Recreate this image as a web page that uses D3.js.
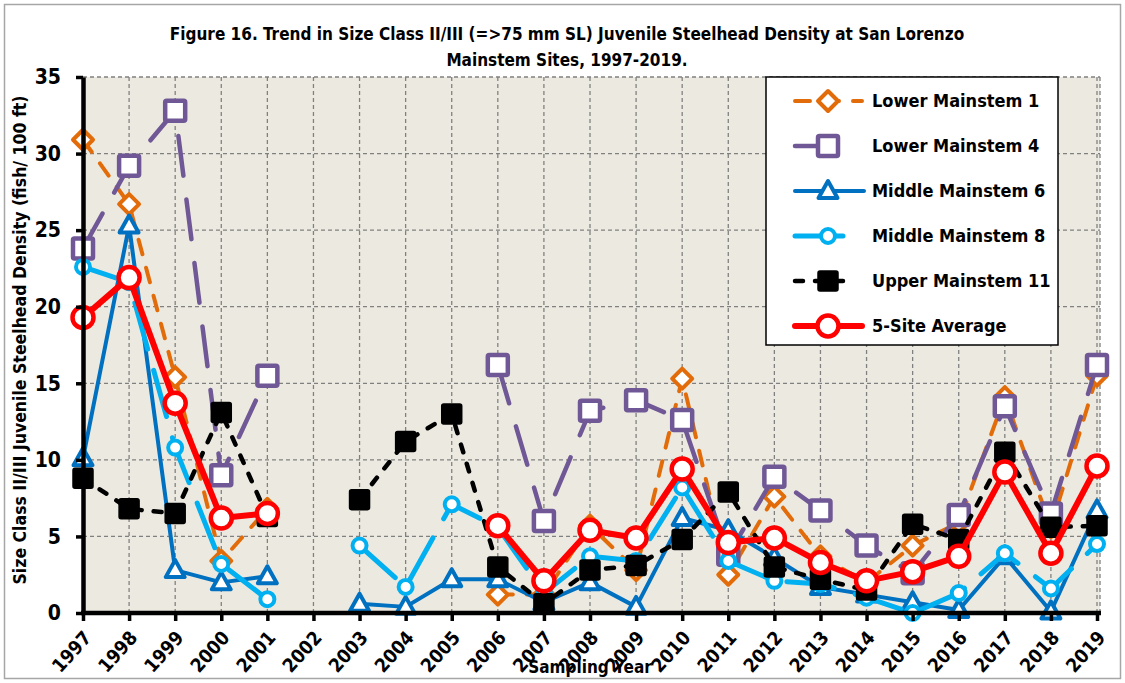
<!DOCTYPE html>
<html>
  <head>
    <meta charset="utf-8">
    <title>Figure 16</title>
    <style>
      body { margin: 0; background: #fff; }
      svg text { font-family: "Liberation Sans Narrow", "DejaVu Sans Condensed", "Open Sans", sans-serif; font-weight: bold; fill: #000; }
    </style>
    <script src="https://cdn.jsdelivr.net/npm/d3@7/dist/d3.min.js"></script>
  </head>
  <body>
    <div id="chart"></div>
    <script>
var years = ["1997","1998","1999","2000","2001","2002","2003","2004","2005","2006","2007","2008",
             "2009","2010","2011","2012","2013","2014","2015","2016","2017","2018","2019"];
var yTicks = [0, 5, 10, 15, 20, 25, 30, 35];

var lowerMainstem1 = [30.9, 26.7, 15.4, 3.4, 6.8, null, null, null, null, 1.2, 1.2, 5.7,
                      2.8, 15.3, 2.5, 7.6, 3.7, 2.0, 4.4, 5.9, 14.1, 5.6, 15.5];
var lowerMainstem4 = [23.8, 29.2, 32.8, 9.0, 15.5, null, null, null, null, 16.2, 6.0, 13.2,
                      13.9, 12.6, 3.8, 8.9, 6.7, 4.4, 2.6, 6.4, 13.5, 6.5, 16.2];
var middleMainstem6 = [10.1, 25.3, 2.8, 2.0, 2.4, null, 0.6, 0.4, 2.2, 2.2, 0.7, 2.0,
                       0.4, 6.2, 5.4, 3.6, 1.7, 1.2, 0.7, 0.2, 3.7, 0.1, 6.7];
var middleMainstem8 = [22.6, 21.6, 10.8, 3.2, 0.9, null, 4.4, 1.7, 7.1, 5.6, 1.3, 3.7,
                       3.4, 8.2, 3.4, 2.1, 1.9, 1.0, 0.0, 1.3, 3.9, 1.6, 4.5];
var upperMainstem11 = [8.8, 6.8, 6.5, 13.1, 6.3, null, 7.4, 11.2, 13.0, 3.0, 0.6, 2.8,
                       3.1, 4.8, 7.9, 3.0, 2.2, 1.5, 5.8, 4.8, 10.5, 5.6, 5.7];
var siteAverage = [19.3, 21.9, 13.7, 6.2, 6.5, null, null, null, null, 5.7, 2.1, 5.4,
                   4.9, 9.4, 4.6, 4.9, 3.3, 2.1, 2.7, 3.7, 9.2, 3.9, 9.6];

var series = [
  { name: "Lower Mainstem 1", values: lowerMainstem1, color: "#E36C0A", dash: "15,14", width: 4, marker: "diamond", legendEnd: 862 },
  { name: "Lower Mainstem 4", values: lowerMainstem4, color: "#6F5895", dash: "40,24", width: 4.5, marker: "square", legendEnd: 841 },
  { name: "Middle Mainstem 6", values: middleMainstem6, color: "#0070C0", dash: null, width: 4, marker: "triangle", legendEnd: 864 },
  { name: "Middle Mainstem 8", values: middleMainstem8, color: "#00B0F0", dash: "48,22", width: 5, marker: "circle", legendEnd: 846 },
  { name: "Upper Mainstem 11", values: upperMainstem11, color: "#000000", dash: "8,12", width: 4.5, marker: "filledSquare", legendEnd: 855 },
  { name: "5-Site Average", values: siteAverage, color: "#FF0000", dash: null, width: 6, marker: "bigCircle", legendEnd: 862 }
];

var W = 1125, H = 683;
var svg = d3.select("#chart").append("svg").attr("width", W).attr("height", H);

svg.append("rect").attr("x", 4.5).attr("y", 4.5).attr("width", W - 9).attr("height", H - 9)
  .attr("fill", "#fff").attr("stroke", "#a6a6a6").attr("stroke-width", 1.5);

var x = d3.scalePoint().domain(years).range([83, 1097]);
var y = d3.scaleLinear().domain([0, 35]).range([613, 77]);

// plot area
svg.append("rect").attr("x", 83).attr("y", 77).attr("width", 1100 - 83).attr("height", 613 - 77)
  .attr("fill", "#ECEAE0");

var grid = svg.append("g").attr("stroke", "#808080").attr("stroke-width", 1.3).attr("stroke-dasharray", "4,3");
grid.selectAll(".vg").data(years.slice(1)).enter().append("line")
  .attr("x1", function(d){ return x(d); }).attr("x2", function(d){ return x(d); })
  .attr("y1", 77).attr("y2", 613);
grid.append("line").attr("x1", 1100).attr("x2", 1100).attr("y1", 77).attr("y2", 613);
grid.selectAll(".hg").data(yTicks.slice(1)).enter().append("line")
  .attr("x1", 83).attr("x2", 1100)
  .attr("y1", function(d){ return y(d); }).attr("y2", function(d){ return y(d); });

// title
var title = svg.append("text").attr("x", 567).attr("text-anchor", "middle").style("font-size", "17px");
title.append("tspan").attr("x", 567).attr("y", 40).text("Figure 16. Trend in Size Class II/III  (=>75 mm SL) Juvenile Steelhead Density at San Lorenzo");
title.append("tspan").attr("x", 567).attr("y", 66).text("Mainstem Sites, 1997-2019.");

// lines
var line = d3.line()
  .defined(function(d){ return d != null; })
  .x(function(d, i){ return x(years[i]); })
  .y(function(d){ return y(d); });

function drawMarker(g, s, cx, cy) {
  if (s.marker === "diamond") {
    g.append("path").attr("d", "M" + cx + "," + (cy - 10) + "L" + (cx + 10) + "," + cy + "L" + cx + "," + (cy + 10) + "L" + (cx - 10) + "," + cy + "Z")
      .attr("fill", "#fff").attr("stroke", s.color).attr("stroke-width", 4).attr("stroke-linejoin", "round");
  } else if (s.marker === "square") {
    g.append("rect").attr("x", cx - 10).attr("y", cy - 10).attr("width", 20).attr("height", 20)
      .attr("fill", "#fff").attr("stroke", s.color).attr("stroke-width", 4.5).attr("rx", 1.5);
  } else if (s.marker === "triangle") {
    g.append("path").attr("d", "M" + cx + "," + (cy - 10) + "L" + (cx + 9.5) + "," + (cy + 7) + "L" + (cx - 9.5) + "," + (cy + 7) + "Z")
      .attr("fill", "#fff").attr("stroke", s.color).attr("stroke-width", 4).attr("stroke-linejoin", "round");
  } else if (s.marker === "circle") {
    g.append("circle").attr("cx", cx).attr("cy", cy).attr("r", 7)
      .attr("fill", "#fff").attr("stroke", s.color).attr("stroke-width", 4);
  } else if (s.marker === "filledSquare") {
    g.append("rect").attr("x", cx - 10).attr("y", cy - 10).attr("width", 20).attr("height", 20)
      .attr("fill", "#000").attr("stroke", "#000").attr("stroke-width", 1.5).attr("rx", 2);
  } else if (s.marker === "bigCircle") {
    g.append("circle").attr("cx", cx).attr("cy", cy).attr("r", 10.5)
      .attr("fill", "#fff").attr("stroke", s.color).attr("stroke-width", 4.5);
  }
}

series.forEach(function(s){
  var g = svg.append("g");
  g.append("path").datum(s.values).attr("d", line)
    .attr("fill", "none").attr("stroke", s.color).attr("stroke-width", s.width)
    .attr("stroke-dasharray", s.dash).attr("stroke-linecap", s.dash ? "round" : "butt")
    .attr("stroke-linejoin", "round");
  s.values.forEach(function(v, i){
    if (v != null) drawMarker(g, s, x(years[i]), y(v));
  });
});

// axes
var yAxis = svg.append("g").attr("transform", "translate(83,0)")
  .call(d3.axisLeft(y).tickValues(yTicks).tickSize(7).tickPadding(15).tickSizeOuter(0));
yAxis.select(".domain").attr("stroke-width", 4.5);
yAxis.selectAll(".tick line").attr("stroke-width", 3.5);
yAxis.selectAll(".tick text").style("font-size", "21px");

var xAxis = svg.append("g").attr("transform", "translate(0,613)")
  .call(d3.axisBottom(x).tickSize(8).tickSizeOuter(0));
xAxis.select(".domain").attr("d", "M81,0H1101").attr("stroke-width", 4.5);
xAxis.selectAll(".tick line").attr("stroke-width", 3.5);
xAxis.selectAll(".tick text").style("font-size", "19px")
  .attr("text-anchor", "end").attr("x", 0).attr("y", 0).attr("dy", "0.35em")
  .attr("transform", "translate(4,21) rotate(-48)");

svg.append("text").attr("x", 590).attr("y", 673).attr("text-anchor", "middle")
  .style("font-size", "17px").text("Sampling Year");

svg.append("text").attr("transform", "translate(26,340) rotate(-90)").attr("text-anchor", "middle")
  .style("font-size", "17.5px").text("Size Class II/III  Juvenile Steelhead Density (fish/ 100 ft)");

// legend
var legend = svg.append("g");
legend.append("rect").attr("x", 766).attr("y", 77).attr("width", 292).attr("height", 268)
  .attr("fill", "#fff").attr("stroke", "#000").attr("stroke-width", 1.5);
series.forEach(function(s, i){
  var ly = 101 + i * 45;
  var g = legend.append("g");
  g.append("line").attr("x1", 795).attr("x2", s.legendEnd).attr("y1", ly).attr("y2", ly)
    .attr("stroke", s.color).attr("stroke-width", s.width)
    .attr("stroke-dasharray", s.dash).attr("stroke-linecap", "round");
  drawMarker(g, s, 828, ly);
  g.append("text").attr("x", 872).attr("y", ly).attr("dy", "0.35em")
    .style("font-size", "18px").text(s.name);
});
    </script>
  </body>
</html>
